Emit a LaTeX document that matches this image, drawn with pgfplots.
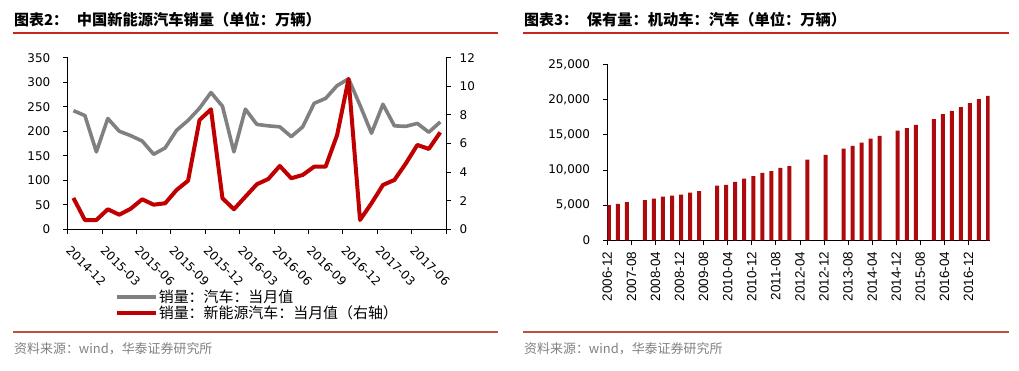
\documentclass[border=0pt]{standalone}
\usepackage{pgfplots}
\pgfplotsset{compat=1.18}
\usepackage{fontspec}
\newfontfamily\cjk{Noto Sans CJK SC}
\newfontfamily\dejavu{DejaVu Sans}
\newfontfamily\arial{Liberation Sans}
\definecolor{barred}{RGB}{172,10,12}
\definecolor{linered}{RGB}{192,0,0}
\definecolor{linegray}{RGB}{128,128,128}
\definecolor{rulered}{RGB}{196,40,30}
\definecolor{rulebot}{RGB}{192,80,60}
\definecolor{srcgray}{RGB}{128,128,128}
\begin{document}
\begin{tikzpicture}[x=1bp,y=1bp]
\path[use as bounding box] (0,0) rectangle (1019,370);
% ---------- left panel decorations ----------
\node[anchor=west, inner sep=0, font=\cjk\bfseries\fontsize{15}{17}\selectfont] at (14,350) {图表2：};
\node[anchor=west, inner sep=0, font=\cjk\bfseries\fontsize{15.3}{17}\selectfont] at (76.7,350) {中国新能源汽车销量（单位：万辆）};
\draw[rulered, line width=2bp] (13,337.3) -- (498,337.3);
\draw[rulebot, line width=2bp] (13,38.3) -- (498,38.3);
\node[anchor=west, inner sep=0, text=srcgray, font=\cjk\fontsize{13}{16}\selectfont] at (14,21) {资料来源：wind，华泰证券研究所};
% ---------- right panel decorations ----------
\node[anchor=west, inner sep=0, font=\cjk\bfseries\fontsize{15}{17}\selectfont] at (524,350) {图表3：};
\node[anchor=west, inner sep=0, font=\cjk\bfseries\fontsize{15.3}{17}\selectfont] at (586.7,350) {保有量：机动车：汽车（单位：万辆）};
\draw[rulered, line width=2bp] (523,337.3) -- (1009,337.3);
\draw[rulebot, line width=2bp] (523,38.3) -- (1009,38.3);
\node[anchor=west, inner sep=0, text=srcgray, font=\cjk\fontsize{13}{16}\selectfont] at (524,21) {资料来源：wind，华泰证券研究所};

% ---------- left chart, left axis ----------
\begin{axis}[at={(67.7bp,140.7bp)}, anchor=south west, width=378.3bp, height=171.6bp, scale only axis,
  xmin=-0.5, xmax=32.5, ymin=0, ymax=350,
  axis x line*=bottom, axis y line*=left,
  axis line style={-, line width=0.8bp, black},
  xtick={-0.5,2.5,...,32.5},
  xticklabels={2014-12,2015-03,2015-06,2015-09,2015-12,2016-03,2016-06,2016-09,2016-12,2017-03,2017-06,{}},
  ytick={0,50,...,350},
  tick align=outside, major tick length=4.5bp, tick style={black, line width=0.8bp},
  /pgf/number format/assume math mode=true,
  y tick label style={font=\dejavu\fontsize{12}{14}\selectfont, inner sep=0pt, xshift=-12.7bp},
  x tick label style={font=\dejavu\fontsize{12}{14}\selectfont, inner sep=0pt, xshift=4bp, yshift=-11bp, rotate=-45, anchor=north west},
]
\addplot[linegray, line width=3.6bp, line join=round] coordinates {
(0,242) (1,232) (2,158) (3,226) (4,200) (5,191) (6,180) (7,153) (8,166) (9,202)
(10,222) (11,247) (12,279) (13,251) (14,158) (15,245) (16,214) (17,211) (18,209) (19,189)
(20,209) (21,257) (22,267) (23,293) (24,307) (25,253) (26,196) (27,255) (28,211) (29,210)
(30,216) (31,198) (32,219)};
\end{axis}
% ---------- left chart, right axis ----------
\begin{axis}[at={(67.7bp,140.7bp)}, anchor=south west, width=378.3bp, height=171.6bp, scale only axis,
  xmin=-0.5, xmax=32.5, ymin=0, ymax=12,
  axis x line=none, axis y line*=right,
  axis line style={-, line width=0.8bp, black},
  ytick={0,2,...,12},
  tick align=outside, major tick length=4.5bp, tick style={black, line width=0.8bp},
  /pgf/number format/assume math mode=true,
  y tick label style={font=\dejavu\fontsize{12}{14}\selectfont, inner sep=0pt, xshift=9bp},
  legend style={at={(0.124,-0.346)}, anchor=north west, draw=none, fill=none, inner sep=0pt,
     row sep=0bp, font=\cjk\fontsize{15}{16}\selectfont, nodes={inner sep=1bp}},
  legend cell align=left,
  legend image code/.code={\draw[#1] (0bp,0bp) -- (39bp,0bp);},
]
\addlegendimage{linegray, line width=3.6bp}
\addlegendentry{销量：汽车：当月值}
\addplot[linered, line width=4bp, line join=round] coordinates {
(0,2.19) (1,0.65) (2,0.65) (3,1.40) (4,1.02) (5,1.44) (6,2.10) (7,1.72) (8,1.82) (9,2.75)
(10,3.40) (11,7.64) (12,8.39) (13,2.17) (14,1.40) (15,2.28) (16,3.15) (17,3.52) (18,4.43) (19,3.57)
(20,3.80) (21,4.38) (22,4.38) (23,6.59) (24,10.51) (25,0.65) (26,1.82) (27,3.10) (28,3.45) (29,4.61)
(30,5.90) (31,5.62) (32,6.78)};
\addlegendentry{销量：新能源汽车：当月值（右轴）}
\end{axis}

% ---------- right chart ----------
\begin{axis}[at={(607.3bp,129.7bp)}, anchor=south west, width=382.2bp, height=176bp, scale only axis,
  xmin=0, xmax=127, ymin=0, ymax=25000,
  axis x line*=bottom, axis y line*=left,
  axis line style={-, line width=0.8bp, black},
  xtick={0,8,...,120},
  xticklabels={2006-12,2007-08,2008-04,2008-12,2009-08,2010-04,2010-12,2011-08,2012-04,2012-12,2013-08,2014-04,2014-12,2015-08,2016-04,2016-12},
  ytick={0,5000,...,25000},
  scaled y ticks=false,
  /pgf/number format/1000 sep={,},
  /pgf/number format/assume math mode=true,
  tick align=outside, major tick length=4.5bp, tick style={black, line width=0.8bp},
  y tick label style={font=\dejavu\fontsize{12}{14}\selectfont, inner sep=0pt, xshift=-12.5bp},
  x tick label style={font=\arial\fontsize{13.5}{15}\selectfont, inner sep=0pt, yshift=-7bp, rotate=90, anchor=east},
]
\addplot[ybar, bar width=1.33, fill=barred, draw=none] coordinates {
(0.5,5010) (3.5,5160) (6.5,5440) (12.5,5720) (15.5,5910) (18.5,6200) (21.5,6340) (24.5,6480)
(27.5,6770) (30.5,7000) (36.5,7770) (39.5,7860) (42.5,8290) (45.5,8760) (48.5,9130) (51.5,9560)
(54.5,9840) (57.5,10270) (60.5,10550) (66.5,11450) (72.5,12120) (78.5,13020) (81.5,13400) (84.5,13870)
(87.5,14440) (90.5,14820) (96.5,15570) (99.5,15950) (102.5,16380) (108.5,17230) (111.5,17940) (114.5,18370)
(117.5,18930) (120.5,19500) (123.5,20070) (126.5,20500)};
\end{axis}
\end{tikzpicture}
\end{document}
